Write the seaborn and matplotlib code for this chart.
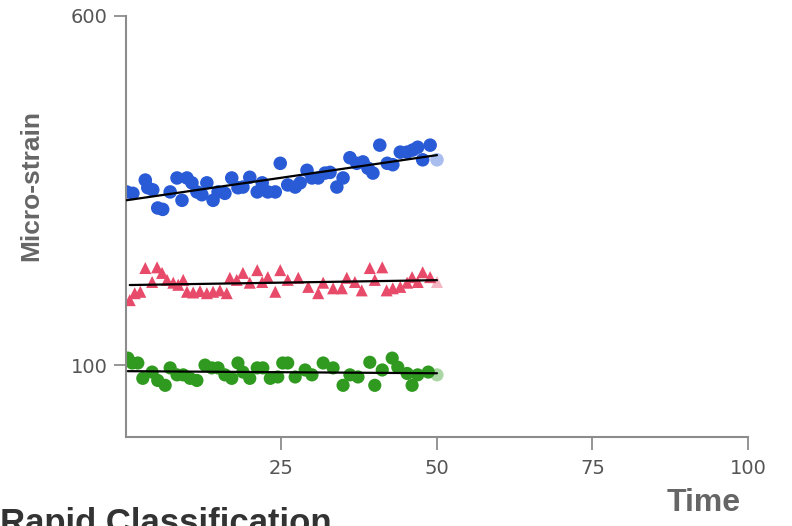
import numpy as np
import pandas as pd
import matplotlib
matplotlib.use("Agg")
import matplotlib.pyplot as plt
import seaborn as sns

# values (time, micro-strain)
blue_time = [0.1, 1.1, 3.1, 3.5, 4.3, 5.1, 5.9, 7.1, 8.2, 9.0, 9.8, 10.6, 11.4, 12.2, 13.0,
             14.0, 14.8, 15.9, 17.0, 18.0, 18.8, 19.9, 21.1, 21.9, 22.8, 24.0, 24.8, 26.0,
             27.2, 28.0, 29.1, 29.9, 30.9, 32.0, 32.8, 33.9, 34.9, 36.0, 37.1, 38.1, 38.9,
             39.7, 40.8, 42.0, 42.9, 44.1, 45.2, 46.1, 46.9, 47.7, 48.9, 50.0]
blue_strain = [348, 346, 365, 354, 351, 325, 323, 348, 368, 336, 368, 361, 348, 344, 361,
               336, 348, 346, 368, 354, 355, 369, 348, 361, 348, 348, 389, 358,
               355, 361, 379, 368, 368, 375, 376, 355, 368, 397, 389, 391, 382,
               375, 415, 389, 387, 405, 405, 408, 412, 394, 415, 394]

red_time = [0.6, 1.4, 2.3, 3.1, 4.2, 5.0, 5.8, 6.6, 7.6, 8.4, 9.2, 9.8, 10.8, 11.9, 13.0,
            14.0, 15.1, 16.2, 16.7, 17.8, 18.8, 19.9, 21.1, 21.9, 22.8, 24.0, 24.8, 26.0,
            27.7, 29.3, 30.9, 31.7, 33.3, 34.7, 35.5, 36.8, 37.9, 39.2, 40.0, 41.2, 41.9,
            42.9, 44.1, 45.2, 46.0, 46.9, 47.7, 48.9, 50.0]
red_strain = [193, 203, 205, 239, 219, 240, 232, 222, 218, 215, 222, 205, 204, 206, 203,
              205, 207, 203, 225, 222, 232, 218, 236, 219, 226, 205, 236, 222,
              225, 212, 203, 218, 210, 210, 225, 219, 207, 239, 222, 240, 207,
              210, 212, 218, 226, 219, 233, 226, 219]

green_time = [0.3, 1.0, 1.9, 2.7, 4.2, 5.1, 6.3, 7.1, 8.2, 9.2, 10.3, 11.4, 12.7, 13.8, 14.8,
              15.9, 17.0, 18.0, 18.8, 19.9, 21.1, 22.0, 23.2, 24.4, 25.2, 26.0, 27.2, 28.8,
              29.9, 31.7, 33.3, 34.9, 36.0, 37.3, 39.2, 40.0, 41.2, 42.8, 43.7, 45.2, 46.0,
              46.9, 48.6, 50.0]
green_strain = [110, 103, 103, 81, 90, 78, 71, 96, 86, 86, 81, 78, 100, 96, 96,
                86, 81, 103, 90, 81, 96, 96, 81, 83, 103, 103, 83, 93,
                86, 103, 96, 71, 86, 83, 104, 71, 93, 110, 97, 88, 71,
                86, 90, 86]

x_ticks = [25, 50, 75, 100]
y_ticks = [100, 600]

sns.set_style("white")
fig = plt.figure(figsize=(7.92, 5.26), dpi=100)
ax = fig.add_axes([0.1591, 0.1692, 0.7853, 0.8004])

series = [
    (blue_time, blue_strain, "#2a5bd7", "o", 95),
    (red_time, red_strain, "#e84a6a", "^", 75),
    (green_time, green_strain, "#2f9a1f", "o", 90),
]

for t, v, col, mk, size in series:
    df = pd.DataFrame({"Time": t, "Strain": v})
    # last reading is drawn faded
    sns.scatterplot(data=df.iloc[:-1], x="Time", y="Strain", color=col, marker=mk,
                    s=size, edgecolor="none", ax=ax, zorder=2)
    sns.scatterplot(data=df.iloc[-1:], x="Time", y="Strain", color=col, marker=mk,
                    s=size, edgecolor="none", alpha=0.4, ax=ax, zorder=2)
    # trend line
    sns.regplot(data=df, x="Time", y="Strain", scatter=False, ci=None, color="black",
                line_kws={"lw": 1.6, "zorder": 3}, ax=ax)

ax.set_xlim(0, 100)
ax.set_ylim(-3, 600)
ax.set_xticks(x_ticks)
ax.set_yticks(y_ticks)
ax.set_xlabel("")
ax.set_ylabel("")

for side in ["top", "right"]:
    ax.spines[side].set_visible(False)
for side in ["left", "bottom"]:
    ax.spines[side].set_color("#8c8c8c")
    ax.spines[side].set_linewidth(1.5)

ax.tick_params(axis="both", direction="out", length=9, width=1.3, color="#8c8c8c",
               labelsize=14, labelcolor="#555555")
ax.tick_params(axis="x", pad=7)
ax.tick_params(axis="y", pad=4)
ax.tick_params(left=True, bottom=True)

label_font = ["Liberation Sans Narrow", "Liberation Sans", "DejaVu Sans"]
fig.text(0.039, 0.648, "Micro-strain", rotation=90, ha="center", va="center",
         fontsize=19, fontweight="bold", color="#666666", family=label_font)
fig.text(0.888, 0.043, "Time", ha="center", va="center",
         fontsize=23, fontweight="bold", color="#666666", family=label_font)
# heading cut off at the bottom edge, as in the source picture
fig.text(0.0, -0.013, "Rapid Classification", ha="left", va="baseline",
         fontsize=25, fontweight="bold", color="#333333", family=["Liberation Sans", "DejaVu Sans"])

plt.savefig("out.png", dpi=100)
